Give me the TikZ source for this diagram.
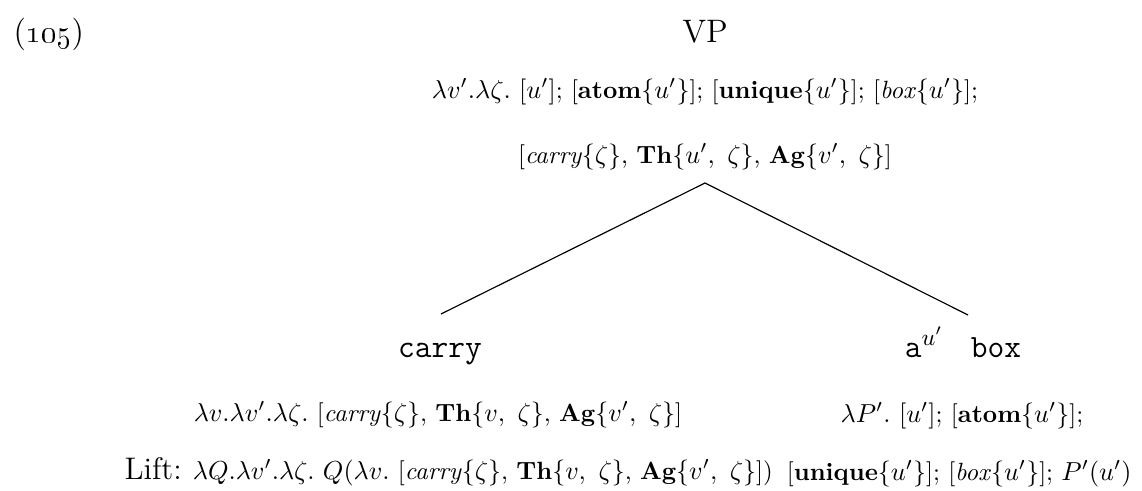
\documentclass[tikz,border=0pt]{standalone}
\usepackage{tikz}
\tikzset{
  px/.style={x=0.384615pt,y=-0.384615pt},
  sem/.style={anchor=base,inner sep=0pt,font=\fontsize{9.6}{12}\selectfont},
  lab/.style={anchor=base,inner sep=0pt,font=\fontsize{12.5}{14}\selectfont},
  ttlab/.style={anchor=base,inner sep=0pt,font=\fontsize{12.5}{14}\selectfont\ttfamily},
  branch/.style={line width=0.45pt}
}
\begin{document}
\begin{tikzpicture}[px]
\useasboundingbox (0,0) rectangle (1142,491);
\node[lab,anchor=base west] (num) at (13,42) {(\oldstylenums{105})};
\node[lab] (vp) at (705,42) {VP};
\node[sem] (r1) at (705,98) {$\lambda v'.\lambda\zeta.$ $[u']$; [\textbf{atom}$\{u'\}$]; [\textbf{unique}$\{u'\}$]; [\textit{box}$\{u'\}$];};
\node[sem] (r2) at (705,163) {[\textit{carry}$\{\zeta\}$, \textbf{Th}$\{u',\ \zeta\}$, \textbf{Ag}$\{v',\ \zeta\}$]};
\coordinate (top) at (705,183);
\coordinate (lend) at (441,314);
\coordinate (rend) at (968,315);
\draw[branch] (top) -- (lend);
\draw[branch] (top) -- (rend);
\node[ttlab] (carry) at (440,357) {carry};
\node[ttlab] (abox) at (963,357) {a$^{u'}$\hspace{4pt} box};
\node[sem] (c1) at (438,421) {$\lambda v.\lambda v'.\lambda\zeta.$ [\textit{carry}$\{\zeta\}$, \textbf{Th}$\{v,\ \zeta\}$, \textbf{Ag}$\{v',\ \zeta\}$]};
\node[sem,anchor=base west] (c2) at (124,479) {{\fontsize{12}{14}\selectfont Lift:} $\lambda Q.\lambda v'.\lambda\zeta.$ $Q(\lambda v.$ [\textit{carry}$\{\zeta\}$, \textbf{Th}$\{v,\ \zeta\}$, \textbf{Ag}$\{v',\ \zeta\}$])};
\node[sem] (b1) at (962,422) {$\lambda P'.$ $[u']$; [\textbf{atom}$\{u'\}$];};
\node[sem,anchor=base east] (b2) at (1132,480) {[\textbf{unique}$\{u'\}$]; [\textit{box}$\{u'\}$]; $P'(u')$};
\end{tikzpicture}
\end{document}
